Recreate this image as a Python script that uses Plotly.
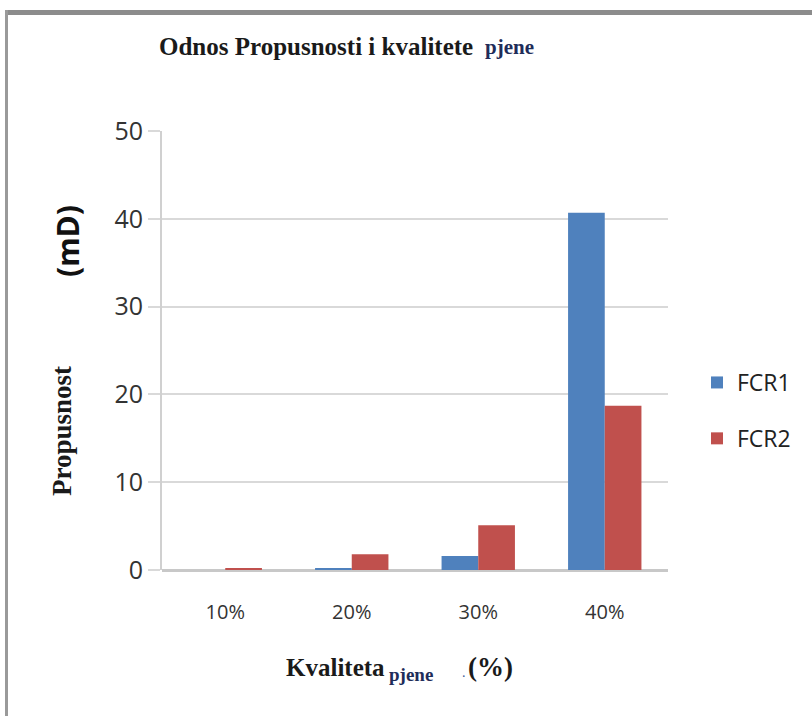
import plotly.graph_objects as go

categories = ["10%", "20%", "30%", "40%"]
fcr1 = [0.0, 0.2, 1.6, 40.7]
fcr2 = [0.2, 1.8, 5.1, 18.7]
series_names = ["FCR1", "FCR2"]
y_ticks = [0, 10, 20, 30, 40, 50]

W, H = 812, 716
L, R, T, B = 162, 668, 131, 570

def px(x):
    return (x - L) / (R - L)

def py(y):
    return (B - y) / (B - T)

fig = go.Figure()
fig.add_trace(go.Bar(x=categories, y=fcr1, name=series_names[0], legendgroup="a",
                     marker=dict(color="#4F81BD", line=dict(width=0))))
fig.add_trace(go.Bar(x=categories, y=fcr2, name=series_names[1], legendgroup="b",
                     marker=dict(color="#C0504D", line=dict(width=0))))

serif = "Liberation Serif"
sans = "Open Sans"

fig.update_layout(
    width=W, height=H,
    margin=dict(l=L, r=W - R, t=T, b=H - B, autoexpand=False),
    paper_bgcolor="white", plot_bgcolor="white",
    barmode="group", bargap=0.42, bargroupgap=0,
    showlegend=True,
    legend=dict(x=px(697), y=py(361), xanchor="left", yanchor="top",
                font=dict(family=sans, size=23, color="#222"),
                itemsizing="constant", tracegroupgap=23, bgcolor="rgba(0,0,0,0)"),
    xaxis=dict(showgrid=False, showline=False, ticks="", ticklabelstandoff=28,
               tickfont=dict(family=sans, size=20, color="#333")),
    yaxis=dict(range=[0, 50], tickvals=y_ticks, showgrid=True, gridcolor="#d9d9d9",
               gridwidth=2, zeroline=True, zerolinecolor="#c8c8c8", zerolinewidth=3,
               showline=True, linecolor="#d0d0d0", linewidth=2,
               ticks="outside", ticklen=12, tickcolor="#d9d9d9", tickwidth=2,
               tickfont=dict(family=sans, size=25, color="#333")),
)

annotations = [
    dict(text="<b>Odnos Propusnosti i kvalitete </b>", x=px(157), y=py(46),
         xanchor="left", yanchor="middle",
         font=dict(family=serif, size=25, color="#1a1a1a")),
    dict(text="<b>pjene</b>", x=px(483), y=py(47), xanchor="left", yanchor="middle",
         font=dict(family=serif, size=21, color="#1f2d5a")),
    dict(text="<b>(mD)</b>", x=px(67), y=py(241), textangle=-90,
         xanchor="center", yanchor="middle",
         font=dict(family=sans, size=30, color="#111")),
    dict(text="<b>Propusnost</b>", x=px(62), y=py(431), textangle=-90,
         xanchor="center", yanchor="middle",
         font=dict(family=serif, size=27, color="#1a1a1a")),
    dict(text="<b>Kvaliteta</b>", x=px(284), y=py(667), xanchor="left", yanchor="middle",
         font=dict(family=serif, size=25, color="#1a1a1a")),
    dict(text="<b>pjene</b>", x=px(387), y=py(674), xanchor="left", yanchor="middle",
         font=dict(family=serif, size=19, color="#1f2d5a")),
    dict(text=".", x=px(460), y=py(672), xanchor="left", yanchor="middle",
         font=dict(family=serif, size=14, color="#3a5a9a")),
    dict(text="<b>(%)</b>", x=px(466), y=py(667), xanchor="left", yanchor="middle",
         font=dict(family=serif, size=27, color="#1a1a1a")),
]
for a in annotations:
    a.update(xref="paper", yref="paper", showarrow=False)
fig.update_layout(annotations=annotations)

# outer frame (gray top and left border)
fig.add_shape(type="rect", xref="paper", yref="paper",
              x0=px(5), x1=px(812), y0=py(15), y1=py(10),
              fillcolor="#8c8c8c", line=dict(width=0), layer="above")
fig.add_shape(type="rect", xref="paper", yref="paper",
              x0=px(5), x1=px(8), y0=py(716), y1=py(10),
              fillcolor="#9a9a9a", line=dict(width=0), layer="above")

fig.write_html("out.html", config={"displayModeBar": False},
               post_script="document.body.style.margin='0px';")
